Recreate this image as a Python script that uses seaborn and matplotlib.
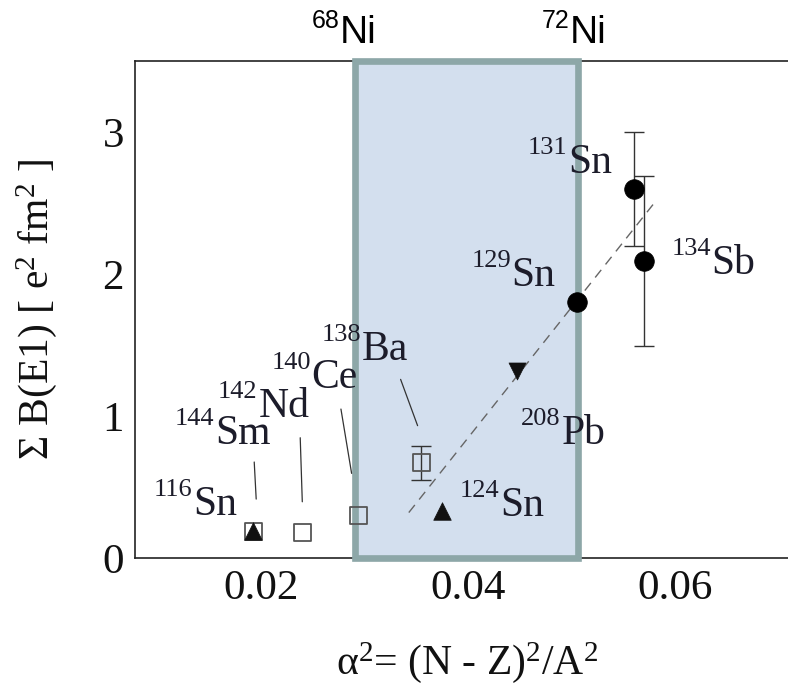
import matplotlib
matplotlib.use("Agg")
import matplotlib.pyplot as plt
import pandas as pd
import seaborn as sns

# data
nuclides = ["116Sn", "144Sm", "142Nd", "140Ce", "138Ba", "124Sn", "208Pb", "129Sn", "131Sn", "134Sb"]
alpha2 = [0.0193, 0.0193, 0.0240, 0.0294, 0.0355, 0.0375, 0.0447, 0.0505, 0.0560, 0.0570]
sum_be1 = [0.19, 0.19, 0.18, 0.30, 0.67, 0.33, 1.32, 1.80, 2.60, 2.09]
err_be1 = [0, 0, 0, 0, 0.12, 0, 0, 0, 0.40, 0.60]
kind = ["tri_up", "square", "square", "square", "square", "tri_up", "tri_down", "circle", "circle", "circle"]

# label anchors (left edge of element symbol, baseline) in data units
label_x = [0.01347, 0.01559, 0.01977, 0.02492, 0.02975, 0.04310, 0.04905, 0.04423, 0.04969, 0.06353]
label_y = [0.303, 0.803, 0.993, 1.197, 1.394, 0.296, 0.803, 1.915, 2.711, 2.00]

# leader lines: (x0, y0, x1, y1)
leaders = [
    (0.01938, 0.676, 0.01957, 0.415),
    (0.02382, 0.847, 0.02402, 0.396),
    (0.02775, 1.049, 0.02878, 0.596),
    (0.03351, 1.258, 0.03515, 0.932),
]

# dashed trend line
fit_x = [0.0343, 0.0581]
fit_y = [0.32, 2.51]

# shaded Ni band and its labels
band_lo, band_hi = 0.0291, 0.05063
ni_mass = ["68", "72"]
ni_x = [0.02768, 0.04986]

df = pd.DataFrame({"nuc": nuclides, "a2": alpha2, "b": sum_be1, "err": err_be1, "kind": kind})

sns.set_theme(style="white")
plt.rcParams["font.family"] = ["Liberation Serif", "DejaVu Serif"]
plt.rcParams["mathtext.fontset"] = "custom"
plt.rcParams["mathtext.rm"] = "Liberation Serif"
plt.rcParams["mathtext.it"] = "Liberation Serif:italic"

fig = plt.figure(figsize=(7.88, 6.84), dpi=100)
ax = fig.add_axes([0.1713, 0.1842, 0.8439, 0.7266])

txt_col = "#1c1c2a"

# band: fill below axis, border above spines
ax.axvspan(band_lo, band_hi, facecolor="#d3dfee", edgecolor="none", zorder=1)
ax.axvspan(band_lo, band_hi, facecolor="none", edgecolor="#8da7a8", lw=4.8,
           zorder=3, clip_on=False)

# trend line
sns.lineplot(x=fit_x, y=fit_y, ax=ax, color="#666666", lw=1.0,
             linestyle=(0, (7, 5)), zorder=4)

# error bars
e = df[df["err"] > 0]
ax.errorbar(e["a2"], e["b"], yerr=e["err"], fmt="none", ecolor="#333333",
            elinewidth=1.0, capsize=7, capthick=1.0, zorder=4)

# markers
sq = df[df["kind"] == "square"]
sns.scatterplot(data=sq, x="a2", y="b", ax=ax, marker="s", s=150,
                facecolor="none", edgecolor="#555555", linewidth=1.3, zorder=5)
up = df[df["kind"] == "tri_up"]
sns.scatterplot(data=up, x="a2", y="b", ax=ax, marker="^", s=160,
                color="#111111", edgecolor="#111111", linewidth=0.5, zorder=6)
dn = df[df["kind"] == "tri_down"]
sns.scatterplot(data=dn, x="a2", y="b", ax=ax, marker="v", s=150,
                color="#111111", edgecolor="#111111", linewidth=0.5, zorder=6)
ci = df[df["kind"] == "circle"]
sns.scatterplot(data=ci, x="a2", y="b", ax=ax, marker="o", s=200,
                color="#000000", edgecolor="#000000", linewidth=0.5, zorder=6)

# leader lines
for x0, y0, x1, y1 in leaders:
    ax.plot([x0, x1], [y0, y1], color="#333333", lw=0.9, zorder=4)

# nuclide labels: element symbol + raised mass number
for nuc, lx, ly in zip(nuclides, label_x, label_y):
    mass = "".join(c for c in nuc if c.isdigit())
    elem = "".join(c for c in nuc if c.isalpha())
    ax.text(lx, ly, elem, fontsize=30, color=txt_col, ha="left", va="baseline", zorder=7)
    ax.annotate(mass, xy=(lx, ly), xytext=(-0.5, 14), textcoords="offset points",
                fontsize=19, color=txt_col, ha="right", va="baseline", zorder=7)

# Ni labels above the band
for m, nx in zip(ni_mass, ni_x):
    ax.text(nx, 1.036, "Ni", fontsize=28, family="Liberation Sans", color="#000000",
            ha="left", va="baseline", transform=ax.get_xaxis_transform())
    ax.annotate(m, xy=(nx, 1.036), xycoords=ax.get_xaxis_transform(),
                xytext=(-0.5, 11), textcoords="offset points", fontsize=18,
                family="Liberation Sans", color="#000000", ha="right", va="baseline")

ax.set_xlim(0.00787, 0.07206)
ax.set_ylim(0, 3.5)
ax.set_xticks([0.02, 0.04, 0.06])
ax.set_xticklabels(["0.02", "0.04", "0.06"])
ax.set_yticks([0, 1, 2, 3])
ax.set_yticklabels(["0", "1", "2", "3"])
ax.tick_params(direction="in", length=12, width=1, labelsize=31, pad=8,
               colors="#222222", labelcolor="#111111")

for s in ["left", "bottom", "top"]:
    ax.spines[s].set_color("#222222")
    ax.spines[s].set_linewidth(1.2)
ax.spines["right"].set_visible(False)

ax.set_xlabel(r"α$^2$= (N - Z)$^2$/A$^2$", fontsize=30, color="#111111")
ax.set_ylabel(r"Σ B(E1) [ e$^2$ fm$^2$ ]", fontsize=30, color="#111111")
ax.xaxis.set_label_coords(0.5, -0.165)
ax.yaxis.set_label_coords(-0.115, 0.5)

fig.savefig("out.png", dpi=100, facecolor="white")
